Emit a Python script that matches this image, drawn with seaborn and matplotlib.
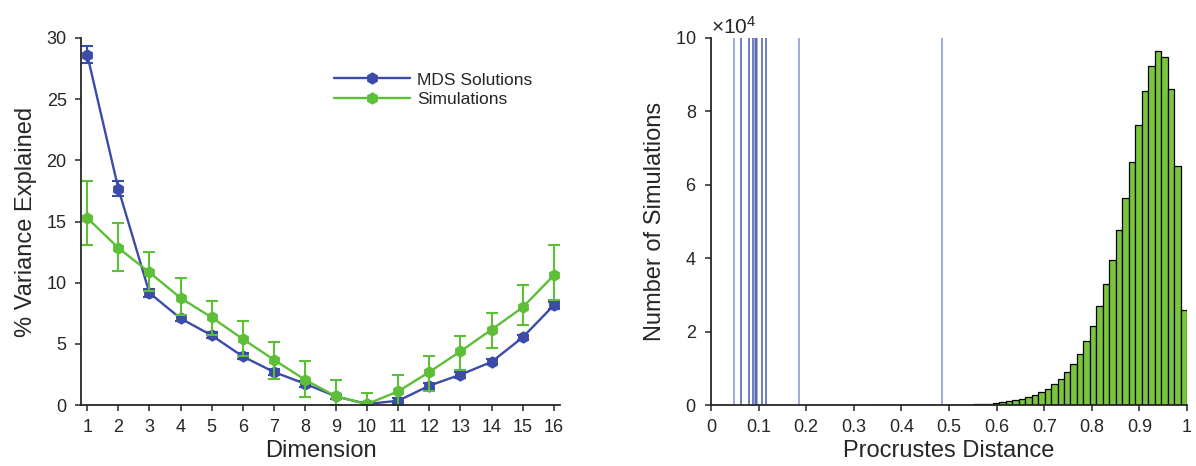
import numpy as np
import pandas as pd
import matplotlib
matplotlib.use('Agg')
import matplotlib.pyplot as plt
import matplotlib.ticker as mticker
import seaborn as sns

# left panel: % variance explained per dimension
dims = list(range(1, 17))
mds_mean = [28.64, 17.69, 9.16, 7.08, 5.69, 3.97, 2.70, 1.74, 0.70, 0.08, 0.35, 1.58, 2.48, 3.52, 5.53, 8.15]
mds_err = [0.7, 0.6, 0.3, 0.25, 0.25, 0.25, 0.25, 0.25, 0.2, 0.15, 0.2, 0.25, 0.25, 0.2, 0.2, 0.3]
sim_mean = [15.29, 12.84, 10.84, 8.75, 7.16, 5.40, 3.70, 2.07, 0.70, 0.08, 1.12, 2.70, 4.39, 6.16, 7.98, 10.60]
sim_upper = [18.28, 14.88, 12.48, 10.38, 8.53, 6.84, 5.18, 3.62, 2.04, 0.98, 2.48, 4.03, 5.67, 7.52, 9.78, 13.05]
sim_lower = [13.05, 10.93, 9.29, 7.38, 5.75, 3.97, 2.15, 0.62, 0.0, 0.0, 0.0, 1.12, 2.89, 4.66, 6.51, 8.61]

# right panel: histogram of simulated procrustes distances (counts x 1e4)
bin_width = 0.0136
sim_counts = [0.001, 0.001, 0.002, 0.002, 0.002, 0.003, 0.003, 0.004, 0.004, 0.005,
              0.006, 0.007, 0.008, 0.009, 0.011, 0.013, 0.016,
              0.02, 0.03, 0.05, 0.07, 0.10, 0.14, 0.16, 0.21, 0.26, 0.35, 0.44, 0.56,
              0.71, 0.91, 1.12, 1.39, 1.74, 2.16, 2.71, 3.30, 3.94, 4.78, 5.64, 6.62,
              7.62, 8.56, 9.23, 9.65, 9.49, 8.60, 6.52, 2.60]
mds_distances = [0.048, 0.064, 0.064, 0.080, 0.080, 0.089, 0.089, 0.092, 0.094, 0.094,
                 0.097, 0.108, 0.108, 0.116, 0.116, 0.185, 0.485]

blue = '#3a4ca8'
green = '#5cbf37'
hist_green = '#79c53d'
text_col = '#262626'

sns.set_style('ticks')
plt.rcParams['font.family'] = ['Liberation Sans', 'DejaVu Sans']
plt.rcParams['text.color'] = text_col
plt.rcParams['axes.labelcolor'] = text_col
plt.rcParams['xtick.color'] = text_col
plt.rcParams['ytick.color'] = text_col
plt.rcParams['axes.edgecolor'] = text_col
plt.rcParams['mathtext.fontset'] = 'custom'
plt.rcParams['mathtext.rm'] = 'Liberation Sans'

W, H = 1196, 466
fig = plt.figure(figsize=(W / 100, H / 100), dpi=100)
ax1 = fig.add_axes([81 / W, (H - 405) / H, 479 / W, 367 / H])
ax2 = fig.add_axes([711 / W, (H - 405) / H, 476 / W, 367 / H])

df = pd.DataFrame({'Dimension': dims, 'mds': mds_mean, 'sim': sim_mean})

# MDS solutions
sns.lineplot(x='Dimension', y='mds', data=df, ax=ax1, color=blue, lw=1.7,
             marker='h', markersize=9, markeredgewidth=0, label='MDS Solutions')
ax1.errorbar(dims, mds_mean, yerr=mds_err, fmt='none', ecolor=blue,
             elinewidth=1.5, capsize=4, capthick=1.5)

# simulations
sim_m = np.array(sim_mean)
yerr = [sim_m - np.array(sim_lower), np.array(sim_upper) - sim_m]
sns.lineplot(x='Dimension', y='sim', data=df, ax=ax1, color=green, lw=1.7,
             marker='h', markersize=9, markeredgewidth=0, label='Simulations')
ax1.errorbar(dims, sim_mean, yerr=yerr, fmt='none', ecolor=green,
             elinewidth=1.5, capsize=4, capthick=1.5)

ax1.set_xlim(0.8, 16.2)
ax1.set_ylim(0, 30)
ax1.set_xticks(dims)
ax1.set_yticks([0, 5, 10, 15, 20, 25, 30])
ax1.set_xlabel('Dimension', fontsize=17, labelpad=3)
ax1.set_ylabel('% Variance Explained', fontsize=17, labelpad=7)
ax1.legend(loc='upper left', bbox_to_anchor=(0.51, 0.93), frameon=False,
           fontsize=12.5, handlelength=4.4, handletextpad=0.4, labelspacing=0.25,
           borderpad=0)

# histogram of simulated distances
edges = 1.0 - bin_width * np.arange(len(sim_counts), -1, -1)
centers = (edges[:-1] + edges[1:]) / 2
hist_df = pd.DataFrame({'dist': centers, 'n': np.array(sim_counts) * 1e4})
sns.histplot(data=hist_df, x='dist', weights='n', bins=edges.tolist(), ax=ax2,
             color=hist_green, alpha=1, edgecolor='black', linewidth=0.9)
for d in mds_distances:
    ax2.axvline(d, color=blue, alpha=0.55, lw=1.2)

ax2.set_xlim(0, 1)
ax2.set_ylim(0, 1e5)
ax2.set_xticks(np.arange(0, 1.01, 0.1))
ax2.xaxis.set_major_formatter(mticker.FuncFormatter(lambda v, p: f'{v:g}'))
ax2.set_yticks(np.arange(0, 100001, 20000))
fmt = mticker.ScalarFormatter(useMathText=True)
fmt.set_powerlimits((4, 4))
ax2.yaxis.set_major_formatter(fmt)
ax2.yaxis.get_offset_text().set_fontsize(15)
ax2.set_xlabel('Procrustes Distance', fontsize=17, labelpad=3)
ax2.set_ylabel('Number of Simulations', fontsize=17, labelpad=7)

for ax in (ax1, ax2):
    sns.despine(ax=ax)
    ax.spines['left'].set_linewidth(1.3)
    ax.spines['bottom'].set_linewidth(1.3)
    ax.tick_params(direction='out', length=4.3, width=1.1, labelsize=13, pad=6)

fig.savefig('out.png', dpi=100)
